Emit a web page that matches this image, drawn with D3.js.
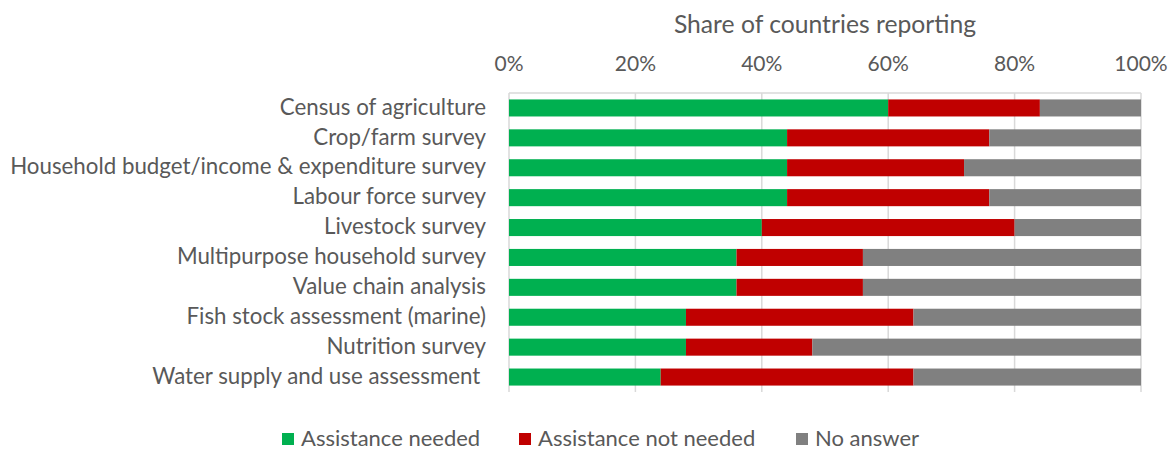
<!DOCTYPE html>
<html>
<head>
<meta charset="utf-8">
<script src="https://cdn.jsdelivr.net/npm/d3@7"></script>
<style>
  body { margin: 0; background: #fff; }
  text { font-family: Lato, "Open Sans", sans-serif; fill: #595959; }
</style>
</head>
<body>
<div id="chart"></div>
<script>
// categories, top to bottom
var categories = [
  "Census of agriculture",
  "Crop/farm survey",
  "Household budget/income & expenditure survey",
  "Labour force survey",
  "Livestock survey",
  "Multipurpose household survey",
  "Value chain analysis",
  "Fish stock assessment (marine)",
  "Nutrition survey",
  "Water supply and use assessment "
];

// share of countries (%) per series
var assistanceNeeded    = [60, 44, 44, 44, 40, 36, 36, 28, 28, 24];
var assistanceNotNeeded = [24, 32, 28, 32, 40, 20, 20, 36, 20, 40];
var noAnswer            = [16, 24, 28, 24, 20, 44, 44, 36, 52, 36];

var seriesNames = ["Assistance needed", "Assistance not needed", "No answer"];
var seriesColors = ["#00B050", "#C00000", "#808080"];
var tickValues = [0, 20, 40, 60, 80, 100];
var axisTitle = "Share of countries reporting";

var width = 1169, height = 451;
var margin = { top: 93, left: 509, right: 28, bottom: 59 };

var svg = d3.select("#chart").append("svg")
  .attr("width", width)
  .attr("height", height);

var x = d3.scaleLinear()
  .domain([0, 100])
  .range([margin.left, width - margin.right]);

var y = d3.scaleBand()
  .domain(categories)
  .range([margin.top, height - margin.bottom])
  .paddingInner(0.43)
  .paddingOuter(0.215);

// gridlines
svg.append("g")
  .selectAll("line")
  .data(tickValues)
  .enter()
  .append("line")
  .attr("x1", function(d) { return x(d); })
  .attr("x2", function(d) { return x(d); })
  .attr("y1", margin.top)
  .attr("y2", height - margin.bottom)
  .attr("stroke", "#d9d9d9")
  .attr("stroke-width", 1.5);

// top axis line
svg.append("line")
  .attr("x1", x(0)).attr("x2", x(100))
  .attr("y1", margin.top).attr("y2", margin.top)
  .attr("stroke", "#d9d9d9")
  .attr("stroke-width", 1.5);

// stack the series
var rows = categories.map(function(c, i) {
  return { cat: c, s0: assistanceNeeded[i], s1: assistanceNotNeeded[i], s2: noAnswer[i] };
});
var stack = d3.stack().keys(["s0", "s1", "s2"]);
var layers = stack(rows);

svg.append("g")
  .selectAll("g")
  .data(layers)
  .enter()
  .append("g")
  .attr("fill", function(d, i) { return seriesColors[i]; })
  .selectAll("rect")
  .data(function(d) { return d; })
  .enter()
  .append("rect")
  .attr("x", function(d) { return x(d[0]); })
  .attr("width", function(d) { return x(d[1]) - x(d[0]); })
  .attr("y", function(d) { return y(d.data.cat); })
  .attr("height", y.bandwidth());

// top tick labels
svg.append("g")
  .selectAll("text")
  .data(tickValues)
  .enter()
  .append("text")
  .attr("x", function(d) { return x(d); })
  .attr("y", 70.5)
  .attr("text-anchor", "middle")
  .style("font-size", "21px")
  .text(function(d) { return d + "%"; });

// axis title
svg.append("text")
  .attr("x", (x(0) + x(100)) / 2)
  .attr("y", 32.5)
  .attr("text-anchor", "middle")
  .style("font-size", "24.7px")
  .text(axisTitle);

// category labels
svg.append("g")
  .selectAll("text")
  .data(categories)
  .enter()
  .append("text")
  .attr("x", 486)
  .attr("y", function(d) { return y(d) + y.bandwidth() / 2; })
  .attr("dy", "0.3em")
  .attr("text-anchor", "end")
  .style("font-size", "22.3px")
  .style("white-space", "pre")
  .text(function(d) { return d; });

// legend
var legendX = [282, 519, 796];
var legend = svg.append("g")
  .selectAll("g")
  .data(seriesNames)
  .enter()
  .append("g")
  .attr("transform", function(d, i) { return "translate(" + legendX[i] + ",433)"; });

legend.append("rect")
  .attr("width", 12)
  .attr("height", 12)
  .attr("fill", function(d, i) { return seriesColors[i]; });

legend.append("text")
  .attr("x", 19)
  .attr("y", 13)
  .style("font-size", "22px")
  .text(function(d) { return d; });
</script>
</body>
</html>
